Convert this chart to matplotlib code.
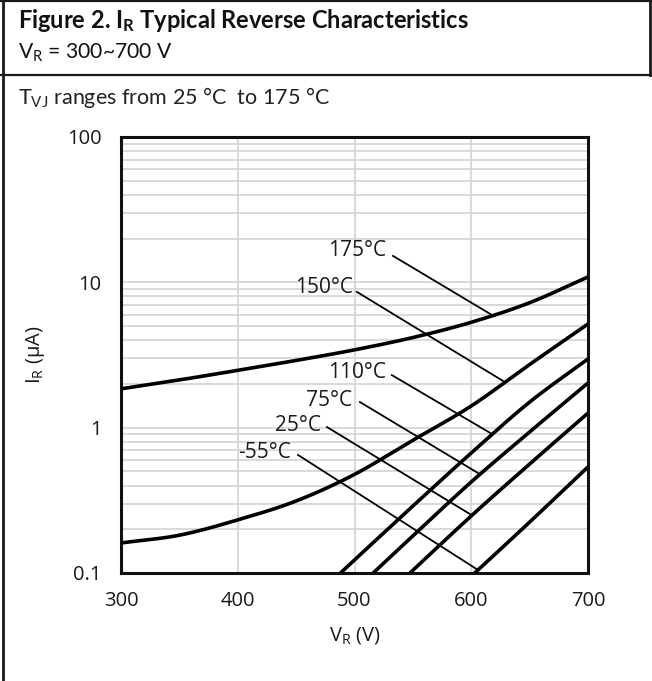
import numpy as np
import matplotlib
matplotlib.use("Agg")
import matplotlib.pyplot as plt
from matplotlib.ticker import LogLocator, FixedLocator, NullFormatter, NullLocator
from matplotlib.lines import Line2D

# ---------------- data ----------------
x_ticks = [300, 400, 500, 600, 700]
y_ticks = [0.1, 1, 10, 100]
y_tick_labels = ["0.1", "1", "10", "100"]

v_175 = [300, 350, 400, 450, 500, 550, 600, 650, 700]
i_175 = [1.85, 2.13, 2.48, 2.90, 3.43, 4.17, 5.31, 7.24, 10.9]

v_150 = [300, 350, 400, 450, 500, 550, 600, 650, 700]
i_150 = [0.161, 0.182, 0.232, 0.313, 0.477, 0.82, 1.41, 2.72, 5.17]

v_110 = [488, 500, 550, 600, 650, 700]
i_110 = [0.1, 0.123, 0.289, 0.67, 1.50, 2.97]

v_75 = [516, 550, 600, 650, 700]
i_75 = [0.1, 0.18, 0.423, 0.934, 2.03]

v_25 = [547.5, 600, 650, 700]
i_25 = [0.1, 0.247, 0.562, 1.26]

v_m55 = [603, 650, 700]
i_m55 = [0.1, 0.224, 0.537]

series = [
    ("175°C", v_175, i_175),
    ("150°C", v_150, i_150),
    ("110°C", v_110, i_110),
    ("75°C", v_75, i_75),
    ("25°C", v_25, i_25),
    ("-55°C", v_m55, i_m55),
]

# label text anchor (right edge), leader start, leader end voltage on curve
label_text_pos = {"175°C": (527, 16.5), "150°C": (499, 9.2), "110°C": (527, 2.4),
                  "75°C": (498, 1.55), "25°C": (471.5, 1.03), "-55°C": (446, 0.67)}
leader_start = {"175°C": (533, 15.2), "150°C": (502, 8.6), "110°C": (532, 2.3),
                "75°C": (504.7, 1.50), "25°C": (476.4, 1.01), "-55°C": (451.6, 0.649)}
leader_end_v = {"175°C": 618.6, "150°C": 629, "110°C": 618, "75°C": 607.5,
                "25°C": 600.6, "-55°C": 605.8}


def smooth_log(v, i):
    """Catmull-Rom interpolation through the read points (in log space)."""
    v = np.asarray(v, float)
    y = np.log10(np.asarray(i, float))
    if len(v) < 3:
        return v, 10 ** y
    P = np.column_stack([v, y])
    P = np.vstack([2 * P[0] - P[1], P, 2 * P[-1] - P[-2]])
    out = []
    for k in range(1, len(P) - 2):
        p0, p1, p2, p3 = P[k - 1], P[k], P[k + 1], P[k + 2]
        t = np.linspace(0, 1, 30, endpoint=(k == len(P) - 3))[:, None]
        seg = 0.5 * ((2 * p1) + (-p0 + p2) * t + (2 * p0 - 5 * p1 + 4 * p2 - p3) * t ** 2
                     + (-p0 + 3 * p1 - 3 * p2 + p3) * t ** 3)
        out.append(seg)
    out = np.vstack(out)
    return out[:, 0], 10 ** out[:, 1]


# ---------------- style ----------------
plt.rcParams["mathtext.fontset"] = "custom"
plt.rcParams["mathtext.rm"] = "Lato"
plt.rcParams["mathtext.bf"] = "Lato:bold"
plt.rcParams["mathtext.sf"] = "Open Sans"
plt.rcParams["font.family"] = ["Open Sans", "DejaVu Sans"]

W, H = 652, 681
fig = plt.figure(figsize=(W / 100, H / 100), dpi=100)


def fx(px):
    return px / W


def fy(py):
    return 1 - py / H


hdr_col = "#1a1a1a"
fig.add_artist(Line2D([fx(0), fx(W)], [fy(75), fy(75)], color=hdr_col, lw=1.6))
fig.add_artist(Line2D([fx(0), fx(W)], [fy(0.5), fy(0.5)], color=hdr_col, lw=1.6))
fig.add_artist(Line2D([fx(2.5), fx(2.5)], [fy(0), fy(H)], color=hdr_col, lw=2.0))
fig.add_artist(Line2D([fx(649.5), fx(649.5)], [fy(0), fy(75)], color=hdr_col, lw=2.0))

fig.text(fx(18), fy(21), r"Figure 2. $\mathbf{I_R}$ Typical Reverse Characteristics",
         family="Lato", weight="bold", fontsize=17.0, va="center", ha="left", color="#111111")
fig.text(fx(18), fy(53), r"$\mathrm{V_R}$ = 300~700 V",
         family="Lato", fontsize=15.2, va="center", ha="left", color="#111111")
fig.text(fx(18), fy(98), r"$\mathrm{T_{VJ}}$ ranges from 25 °C  to 175 °C",
         family="Lato", fontsize=15.5, va="center", ha="left", color="#222222")

# ---------------- axes ----------------
ax = fig.add_axes([fx(121), fy(573), fx(588) - fx(121), fy(137) - fy(573)])
ax.set_yscale("log")
ax.set_xlim(300, 700)
ax.set_ylim(0.1, 100)

ax.xaxis.set_major_locator(FixedLocator(x_ticks))
ax.xaxis.set_minor_locator(NullLocator())
ax.set_xticklabels([str(t) for t in x_ticks])
ax.yaxis.set_major_locator(FixedLocator(y_ticks))
ax.set_yticklabels(y_tick_labels)
ax.yaxis.set_minor_locator(LogLocator(base=10, subs=np.arange(2, 10)))
ax.yaxis.set_minor_formatter(NullFormatter())

ax.grid(True, which="major", axis="both", color="#d3d3d3", lw=1.2)
ax.grid(True, which="minor", axis="y", color="#d3d3d3", lw=1.2)
ax.set_axisbelow(True)
ax.tick_params(which="both", length=0, labelsize=14.5, colors="#1a1a1a")
ax.tick_params(axis="x", pad=13)
ax.tick_params(axis="y", pad=14)
for s in ax.spines.values():
    s.set_linewidth(2.2)
    s.set_color("#111111")

for name, v, i in series:
    sv, si = smooth_log(v, i)
    ax.plot(sv, si, color="black", lw=2.6, solid_capstyle="butt", zorder=3)
    tx, ty = label_text_pos[name]
    ax.text(tx, ty, name, ha="right", va="center", fontsize=15, color="#1a1a1a", zorder=4)
    sx, sy = leader_start[name]
    ev = leader_end_v[name]
    ey = 10 ** np.interp(ev, sv, np.log10(si))
    ax.plot([sx, ev], [sy, ey], color="black", lw=1.3, zorder=3)

ax.set_xlabel(r"$\mathsf{V_R}$ (V)", fontsize=14.5, color="#1a1a1a", labelpad=10)
ax.set_ylabel(r"$\mathsf{I_R}$ (µA)", fontsize=14.5, color="#1a1a1a", labelpad=14)

fig.savefig("out.png", dpi=100)
